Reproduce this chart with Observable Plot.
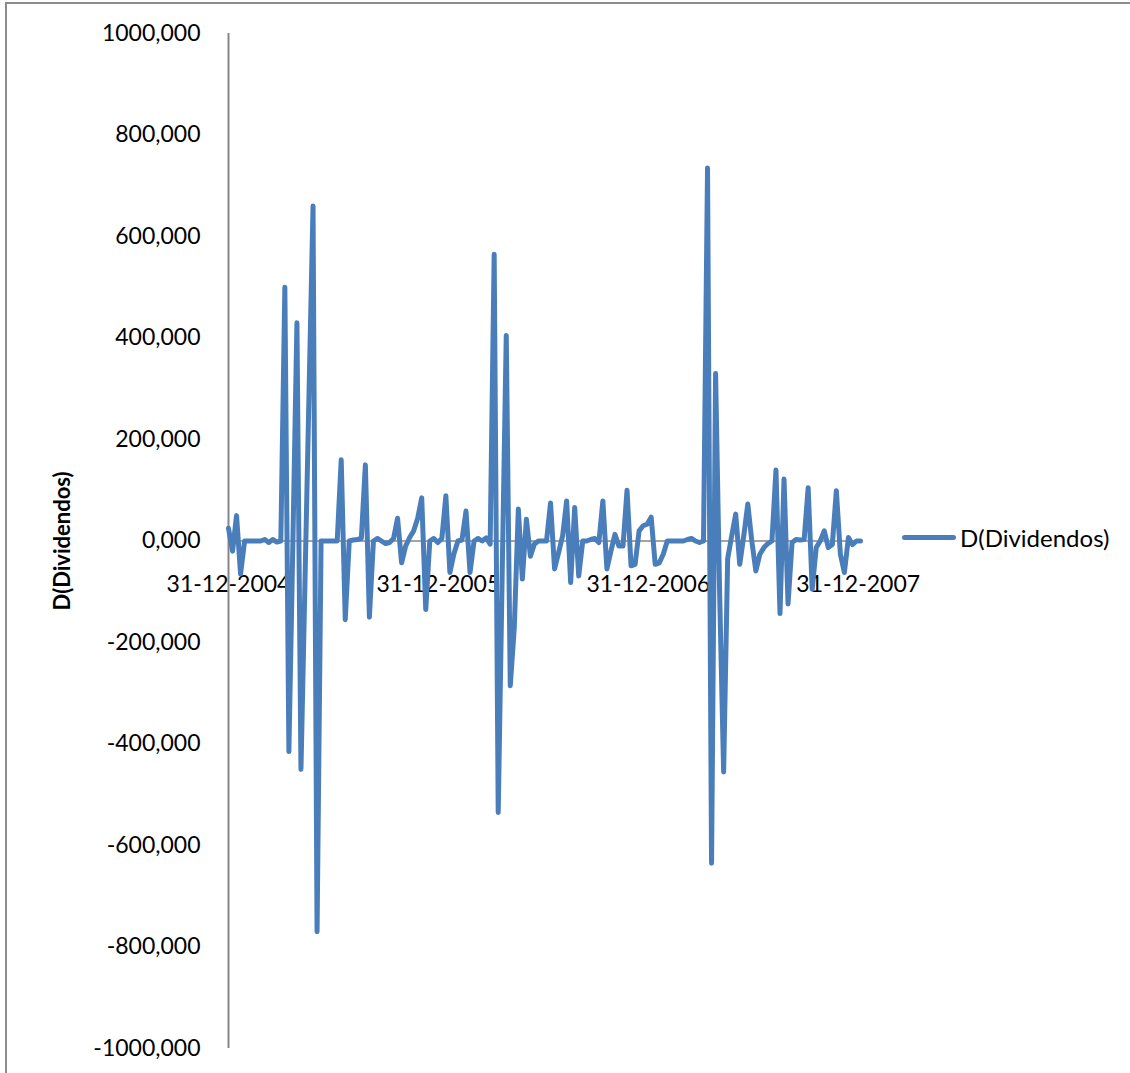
<!DOCTYPE html>
<html>
<head>
<meta charset="utf-8">
<script src="https://cdn.jsdelivr.net/npm/d3@7"></script>
<script src="https://cdn.jsdelivr.net/npm/@observablehq/plot@0.6"></script>
<style>
  html, body { margin: 0; padding: 0; background: #fff; }
  #wrap { position: relative; width: 1130px; height: 1073px; overflow: hidden; font-family: Lato, "Open Sans", sans-serif; }
  #frameTop { position: absolute; left: 5px; top: 2px; width: 1125px; height: 2px; background: #8c8c8c; }
  #frameLeft { position: absolute; left: 5px; top: 2px; width: 2px; height: 1071px; background: #8c8c8c; }
  #legend { position: absolute; left: 902px; top: 523px; display: flex; align-items: center; font-size: 24px; color: #000; }
  #legend .sw { width: 54px; height: 5px; border-radius: 3px; background: #4a7ebb; margin-right: 4px; }
  #ytitle { position: absolute; left: 61px; top: 541px; transform: translate(-50%, -50%) rotate(-90deg); font-size: 22px; font-weight: bold; white-space: nowrap; color: #000; }
  svg { position: absolute; left: 0; top: 0; }
</style>
</head>
<body>
<div id="wrap">
  <div id="chart"></div>
  <div id="frameTop"></div>
  <div id="frameLeft"></div>
  <div id="ytitle"></div>
  <div id="legend"><div class="sw"></div><span id="legtext"></span></div>
</div>
<script>
// ---- data (weekly observations) ----
const seriesName = "D(Dividendos)";
const startDate = "2004-12-31";
const values = [
  25, -20, 50, -65, 0, 0, 0, 0, 0, 3,
  -3, 3, -2, 0, 500, -415, 0, 430, -450, -80,
  290, 660, -770, 0, 0, 0, 0, 0, 160, -155,
  0, 2, 3, 5, 150, -150, 0, 5, 0, -5,
  -3, 5, 45, -43, -10, 7, 20, 45, 85, -135,
  0, 5, -3, 5, 89, -62, -25, 0, 2, 59,
  -62, 0, 5, 0, 6, -6, 565, -535, -60, 405,
  -285, -170, 63, -75, 43, -30, -6, 0, 0, 0,
  75, -55, -23, 10, 79, -82, 66, -69, 0, 0,
  3, 5, -3, 79, -55, -20, 13, -10, -10, 100,
  -49, -46, 20, 30, 33, 47, -46, -43, -26, 0,
  0, 0, 0, 0, 3, 5, 0, -3, 0, 735,
  -635, 330, -100, -455, -35, 10, 53, -46, 10, 73,
  0, -59, -26, -13, -5, 0, 140, -143, 122, -124,
  -3, 3, 2, 3, 105, -95, -13, 0, 20, -13,
  -7, 99, -26, -62, 7, -7, 0, 0
];
const yTicks = [-1000, -800, -600, -400, -200, 0, 200, 400, 600, 800, 1000];
const xTickDates = ["2004-12-31", "2005-12-31", "2006-12-31", "2007-12-31"];

// ---- build table ----
const t0 = new Date(startDate + "T00:00:00Z");
const data = values.map((v, i) => ({date: d3.utcDay.offset(t0, 7 * i), value: v}));
const xTicks = xTickDates.map(s => new Date(s + "T00:00:00Z"));
const fmtY = d => d.toFixed(3).replace(".", ",");
const fmtX = d3.utcFormat("%d-%m-%Y");

document.getElementById("ytitle").textContent = seriesName;
document.getElementById("legtext").textContent = seriesName;

const chart = Plot.plot({
  width: 1130,
  height: 1073,
  marginLeft: 228,
  marginRight: 270,
  marginTop: 33,
  marginBottom: 25,
  style: {fontFamily: "Lato, 'Open Sans', sans-serif", fontSize: "23px", color: "#000", background: "transparent"},
  x: {type: "utc", domain: [t0, data[data.length - 1].date], axis: null},
  y: {domain: [-1000, 1000], axis: null},
  marks: [
    Plot.ruleY([0], {stroke: "#868686", strokeWidth: 1.5}),
    Plot.ruleX([t0], {y1: -1000, y2: 1000, stroke: "#868686", strokeWidth: 2}),
    Plot.axisY(yTicks, {tickSize: 0, tickPadding: 28, tickFormat: fmtY, fontSize: 23, fill: "#000", label: null}),
    Plot.text(xTicks, {x: d => d, y: 0, text: d => fmtX(d), dy: 44, fontSize: 23, fill: "#000"}),
    Plot.line(data, {x: "date", y: "value", stroke: "#4a7ebb", strokeWidth: 5, strokeLinejoin: "round", strokeLinecap: "round"})
  ]
});
document.getElementById("chart").appendChild(chart);
</script>
</body>
</html>
